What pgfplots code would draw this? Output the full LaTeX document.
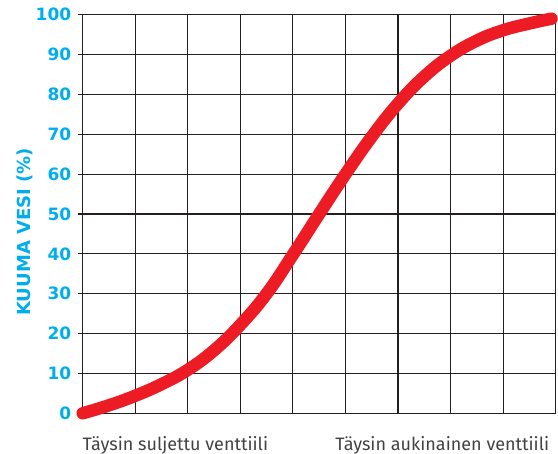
\documentclass[border=0pt]{standalone}
\usepackage{pgfplots}
\pgfplotsset{compat=1.18}
\usepackage{fontspec}
\setmainfont{DejaVu Sans}
\newfontfamily\labfont{Fira Sans}
\definecolor{cyanlab}{HTML}{00AEEF}
\definecolor{curvered}{HTML}{ED1C24}
\definecolor{gridcol}{HTML}{231F20}
\begin{document}
\begin{tikzpicture}
\path[use as bounding box] (-82.7pt,-40.7pt) rectangle (475.3pt,413.3pt);
\begin{axis}[
  at={(0,0)}, anchor=south west,
  scale only axis, width=473pt, height=398.6pt,
  xmin=0, xmax=9, ymin=0, ymax=100,
  xtick={0,1,...,9}, xticklabels={},
  ytick={0,10,...,100},
  /pgf/number format/assume math mode=true,
  grid=major,
  grid style={gridcol, line width=1.1pt},
  axis line style={gridcol, line width=1.1pt},
  major tick length=5pt,
  tick style={gridcol, line width=1.1pt},
  xtick style={draw=none},
  ytick pos=left,
  tick align=outside,
  yticklabel style={font=\bfseries\fontsize{17}{17}\selectfont, text=cyanlab, xshift=-3pt},
  ylabel={KUUMA VESI (\%)},
  every axis y label/.style={at={(axis description cs:-0.122,0.455)}, rotate=90, anchor=center,
     font=\bfseries\fontsize{18}{18}\selectfont, text=cyanlab},
  clip=false,
]
\addplot[curvered, line width=12.5pt, smooth, tension=0.7, line cap=round] coordinates {
(0,0) (0.5,2.0) (1,4.4) (1.5,7.3) (2,10.9) (2.5,15.8) (3,22.2) (3.5,30.0) (4,39.8)
(4.5,50.0) (5,60.0) (5.5,69.4) (6,77.7) (6.5,84.5) (7,89.7) (7.5,93.5) (8,96.1) (8.5,97.8) (8.92,99)
};
\node[anchor=base west, font=\labfont\fontsize{18}{18}\selectfont, text=gridcol!85] at (rel axis cs:0,0) [yshift=-37pt, xshift=-3.5pt] {Täysin suljettu venttiili};
\node[anchor=base east, font=\labfont\fontsize{18}{18}\selectfont, text=gridcol!85] at (rel axis cs:1,0) [yshift=-37pt, xshift=-3pt] {Täysin aukinainen venttiili};
\end{axis}
\end{tikzpicture}
\end{document}
